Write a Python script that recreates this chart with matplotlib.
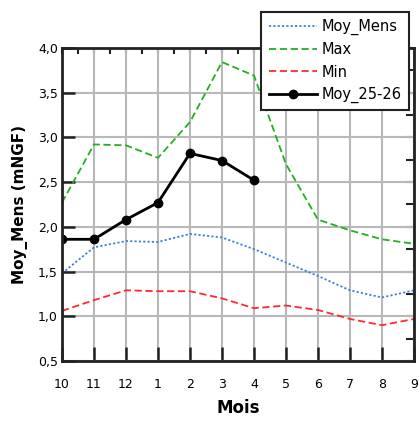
import matplotlib
matplotlib.use('Agg')
import matplotlib.pyplot as plt
from matplotlib.ticker import MultipleLocator, FuncFormatter

mois = ['10', '11', '12', '1', '2', '3', '4', '5', '6', '7', '8', '9']
moy_mens = [1.48, 1.77, 1.84, 1.83, 1.92, 1.88, 1.75, 1.60, 1.45, 1.29, 1.21, 1.29]
maxi = [2.27, 2.92, 2.91, 2.77, 3.17, 3.84, 3.69, 2.70, 2.08, 1.96, 1.86, 1.81]
mini = [1.06, 1.18, 1.29, 1.28, 1.28, 1.20, 1.09, 1.12, 1.07, 0.97, 0.90, 0.97]
moy_2526 = [1.86, 1.86, 2.08, 2.27, 2.82, 2.74, 2.52]

x = list(range(len(mois)))

fig = plt.figure(figsize=(4.2, 4.21), dpi=100)
ax = fig.add_axes([0.1476, 0.1425, 0.838, 0.744])

ax.plot(x, moy_mens, linestyle=(0, (1.2, 1.2)), color='#3c7fe0', linewidth=1.3, label='Moy_Mens')
ax.plot(x, maxi, linestyle=(0, (4, 2)), color='#22b022', linewidth=1.3, label='Max')
ax.plot(x, mini, linestyle=(0, (4, 2)), color='#ff2a2a', linewidth=1.3, label='Min')
ax.plot(x[:len(moy_2526)], moy_2526, marker='o', markersize=6, color='black', linewidth=2, label='Moy_25-26')

ax.set_xlim(0, 11)
ax.set_ylim(0.5, 4.0)
ax.set_xticks(x)
ax.set_xticklabels(mois)
ax.yaxis.set_major_locator(MultipleLocator(0.5))
ax.yaxis.set_major_formatter(FuncFormatter(lambda v, p: f'{v:.1f}'.replace('.', ',')))

ax.grid(True, color='#b8b8b8', linewidth=1.5)
ax.set_axisbelow(True)
ax.tick_params(axis='x', direction='in', length=10, width=1.8, color='#222222',
               labelsize=9, pad=12)
ax.tick_params(axis='y', direction='in', length=9, width=1.8, color='#222222',
               labelsize=9, pad=3)

for s in ax.spines.values():
    s.set_linewidth(2)
    s.set_color('#222222')

# ticks on top and right
axt = ax.secondary_xaxis('top')
axt.set_xticks([i * 0.5 for i in range(23)])
axt.tick_params(direction='in', length=4, width=1.5, color='#222222')
axt.set_xticklabels([])
axr = ax.secondary_yaxis('right')
axr.set_yticks([0.5 + i * 0.25 for i in range(15)])
axr.tick_params(direction='in', length=6, width=1.5, color='#222222')
axr.set_yticklabels([])

ax.set_xlabel('Mois', fontsize=12, fontweight='bold', labelpad=6)
ax.set_ylabel('Moy_Mens (mNGF)', fontsize=11, fontweight='bold', labelpad=7)

leg = fig.legend(loc='upper right', bbox_to_anchor=(0.99, 0.99), fontsize=10.5,
                 frameon=True, fancybox=False, framealpha=1, edgecolor='#222222',
                 handlelength=3.3, handletextpad=0.3, borderpad=0.5, labelspacing=0.5)
leg.get_frame().set_linewidth(1.5)

fig.savefig('out.png', dpi=100)
